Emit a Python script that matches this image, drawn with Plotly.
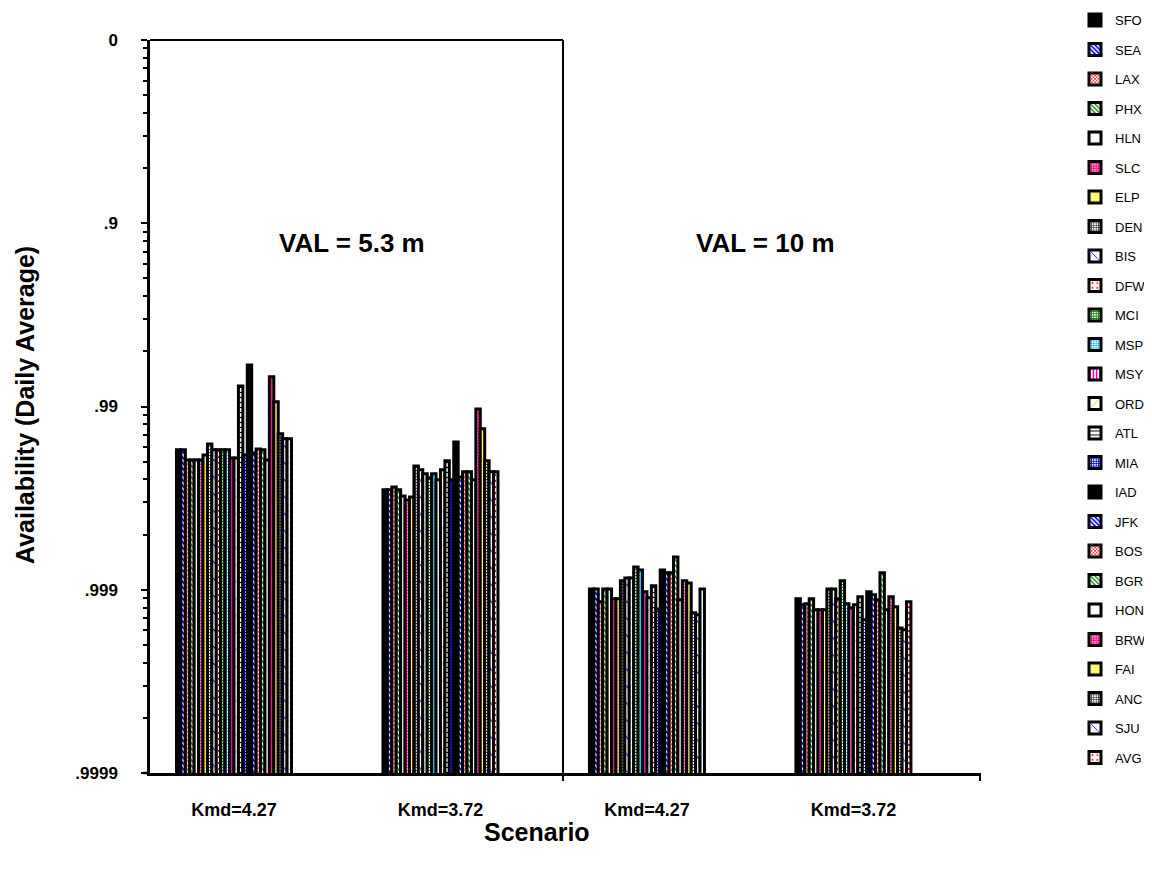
import plotly.graph_objects as go

# Scenarios (x categories)
scenarios = ["A", "B", "C", "D"]
scenario_labels = ["Kmd=4.27", "Kmd=3.72", "Kmd=4.27", "Kmd=3.72"]

sites = ["SFO", "SEA", "LAX", "PHX", "HLN", "SLC", "ELP", "DEN", "BIS", "DFW",
         "MCI", "MSP", "MSY", "ORD", "ATL", "MIA", "IAD", "JFK", "BOS", "BGR",
         "HON", "BRW", "FAI", "ANC", "SJU", "AVG"]

# Availability (daily average) per site, per scenario
avail_val53_k427 = [0.99420, 0.99420, 0.99489, 0.99489, 0.99489, 0.99489, 0.99456, 0.99375,
                    0.99420, 0.99420, 0.99420, 0.99420, 0.99476, 0.99476, 0.98705, 0.99456,
                    0.98314, 0.99442, 0.99413, 0.99420, 0.99489, 0.98549, 0.98940, 0.99291,
                    0.99334, 0.99334]
avail_val53_k372 = [0.99649, 0.99649, 0.99636, 0.99649, 0.99675, 0.99691, 0.99679, 0.99526,
                    0.99549, 0.99571, 0.99592, 0.99571, 0.99602, 0.99549, 0.99495, 0.99602,
                    0.99359, 0.99587, 0.99560, 0.99560, 0.99602, 0.99030, 0.99245, 0.99495,
                    0.99560, 0.99560]
avail_val10_k427 = [0.99899, 0.99899, 0.999141, 0.99899, 0.99899, 0.999108, 0.999108, 0.99888,
                    0.99884, 0.99884, 0.99867, 0.99872, 0.999026, 0.999097, 0.99895, 0.999214,
                    0.99872, 0.99876, 0.99876, 0.99849, 0.999119, 0.99888, 0.99891, 0.999252,
                    0.999270, 0.99899]
avail_val10_k372 = [0.999108, 0.999173, 0.999162, 0.999108, 0.999223, 0.999223, 0.999223, 0.99899,
                    0.99899, 0.999108, 0.99888, 0.999162, 0.999204, 0.999173, 0.999085, 0.999315,
                    0.999026, 0.999062, 0.999119, 0.99876, 0.999223, 0.999085, 0.999193, 0.999381,
                    0.999396, 0.999141]

# y tick labels
tick_unavail = [1e-4, 1e-3, 1e-2, 1e-1, 1]
tick_text = ["<b>.9999</b>", "<b>.999</b>", "<b>.99</b>", "<b>.9</b>", "<b>0</b>"]
minor_ticks = [k * 10.0 ** d for d in range(-4, 0) for k in range(2, 10)]

# fill styles per site: (bg color, pattern shape, fg color, size, solidity)
styles = {
    "SFO": ("black", "", None, None, None),
    "SEA": ("white", "\\", "#0000ff", 4, 0.5),
    "LAX": ("white", "x", "#ff2020", 3, 0.5),
    "PHX": ("white", "\\", "#008000", 4, 0.4),
    "HLN": ("white", "", None, None, None),
    "SLC": ("white", ".", "#ff0080", 3, 0.7),
    "ELP": ("white", "-", "#ffff00", 3, 0.6),
    "DEN": ("white", "+", "#000000", 3, 0.4),
    "BIS": ("white", "\\", "#0000ff", 12, 0.1),
    "DFW": ("white", ".", "#ff0000", 6, 0.15),
    "MCI": ("white", "+", "#008000", 3, 0.6),
    "MSP": ("white", "+", "#00c0ff", 3, 0.5),
    "MSY": ("white", "|", "#ff00c0", 4, 0.5),
    "ORD": ("white", "/", "#e0d000", 12, 0.1),
    "ATL": ("white", "-", "#000000", 5, 0.25),
    "MIA": ("white", "+", "#0000ff", 3, 0.6),
    "IAD": ("black", "", None, None, None),
}
styles["JFK"] = styles["SEA"]
styles["BOS"] = styles["LAX"]
styles["BGR"] = styles["PHX"]
styles["HON"] = styles["HLN"]
styles["BRW"] = styles["SLC"]
styles["FAI"] = styles["ELP"]
styles["ANC"] = styles["DEN"]
styles["SJU"] = styles["BIS"]
styles["AVG"] = styles["DFW"]

FONT = "Arial, Liberation Sans, Helvetica, sans-serif"

fig = go.Figure()
for i, s in enumerate(sites):
    vals = [avail_val53_k427[i], avail_val53_k372[i], avail_val10_k427[i], avail_val10_k372[i]]
    unavail = [1 - v for v in vals]
    bg, shape, fg, size, sol = styles[s]
    marker = dict(color=bg, line=dict(color="black", width=3))
    if shape:
        marker["pattern"] = dict(shape=shape, fgcolor=fg, bgcolor=bg, size=size,
                                 solidity=sol, fillmode="replace")
    fig.add_trace(go.Bar(x=scenarios, y=unavail, name=s, marker=marker, legendgroup=s))

# page body offsets the figure by 8px; plot area targets screen x 150-980, y 40-773
L, T = 142, 32
PW, PH = 830, 733
fig.update_layout(
    width=1152, height=869,
    plot_bgcolor="white", paper_bgcolor="white",
    margin=dict(l=L, r=1152 - L - PW, t=T, b=869 - T - PH, autoexpand=False),
    barmode="group", bargap=0.443, bargroupgap=0,
    font=dict(family=FONT, color="black"),
    showlegend=True,
    legend=dict(x=(1067 - L) / PW, y=1 + (T + 3) / PH, xanchor="left", yanchor="top",
                font=dict(size=13, family=FONT), maxheight=869,
                tracegroupgap=9.6, bgcolor="rgba(0,0,0,0)"),
)

fig.update_yaxes(
    type="log", range=[-4, 0], automargin=False,
    tickvals=tick_unavail, ticktext=tick_text,
    ticks="outside", ticklen=6, tickwidth=2, tickcolor="black",
    ticklabelstandoff=20,
    minor=dict(tickvals=minor_ticks, ticks="outside", ticklen=4, tickcolor="black",
               tickwidth=1.5, showgrid=False),
    showline=True, linewidth=2.5, linecolor="black",
    showgrid=False, zeroline=False,
    tickfont=dict(size=17, family=FONT),
)
fig.update_xaxes(
    type="category", automargin=False,
    range=[-0.4068, 3.613],
    tickvals=scenarios, ticktext=["<b>%s</b>" % t for t in scenario_labels],
    ticks="", showline=True, linewidth=2.5, linecolor="black",
    showgrid=False, zeroline=False, ticklabelstandoff=19,
    tickfont=dict(size=18, family=FONT),
)

# divider between VAL groups, top border of left panel, and end tick
fig.add_shape(type="line", xref="paper", yref="paper", x0=0.4976, x1=0.4976, y0=-0.011, y1=1,
              line=dict(color="black", width=2))
fig.add_shape(type="line", xref="paper", yref="paper", x0=0, x1=0.4976, y0=1, y1=1,
              line=dict(color="black", width=2))
fig.add_shape(type="line", xref="paper", yref="paper", x0=1.0, x1=1.0, y0=-0.011, y1=0,
              line=dict(color="black", width=2))
fig.add_shape(type="line", xref="paper", yref="paper", x0=-0.008, x1=0, y0=0, y1=0,
              line=dict(color="black", width=2.5))

# panel labels
fig.add_annotation(xref="paper", yref="paper", x=(352 - 150) / PW, y=(773 - 243) / PH,
                   xanchor="center", yanchor="middle",
                   text="<b>VAL = 5.3 m</b>", showarrow=False, font=dict(size=26))
fig.add_annotation(xref="paper", yref="paper", x=(765 - 150) / PW, y=(773 - 243) / PH,
                   xanchor="center", yanchor="middle",
                   text="<b>VAL = 10 m</b>", showarrow=False, font=dict(size=26))

# axis titles
fig.add_annotation(xref="paper", yref="paper", x=(25 - 150) / PW, y=(773 - 405) / PH,
                   xanchor="center", yanchor="middle",
                   text="<b>Availability (Daily Average)</b>", showarrow=False,
                   textangle=-90, font=dict(size=25))
fig.add_annotation(xref="paper", yref="paper", x=(537 - 150) / PW, y=(773 - 832) / PH,
                   xanchor="center", yanchor="middle",
                   text="<b>Scenario</b>", showarrow=False, font=dict(size=25))

fig.write_html("out.html")
